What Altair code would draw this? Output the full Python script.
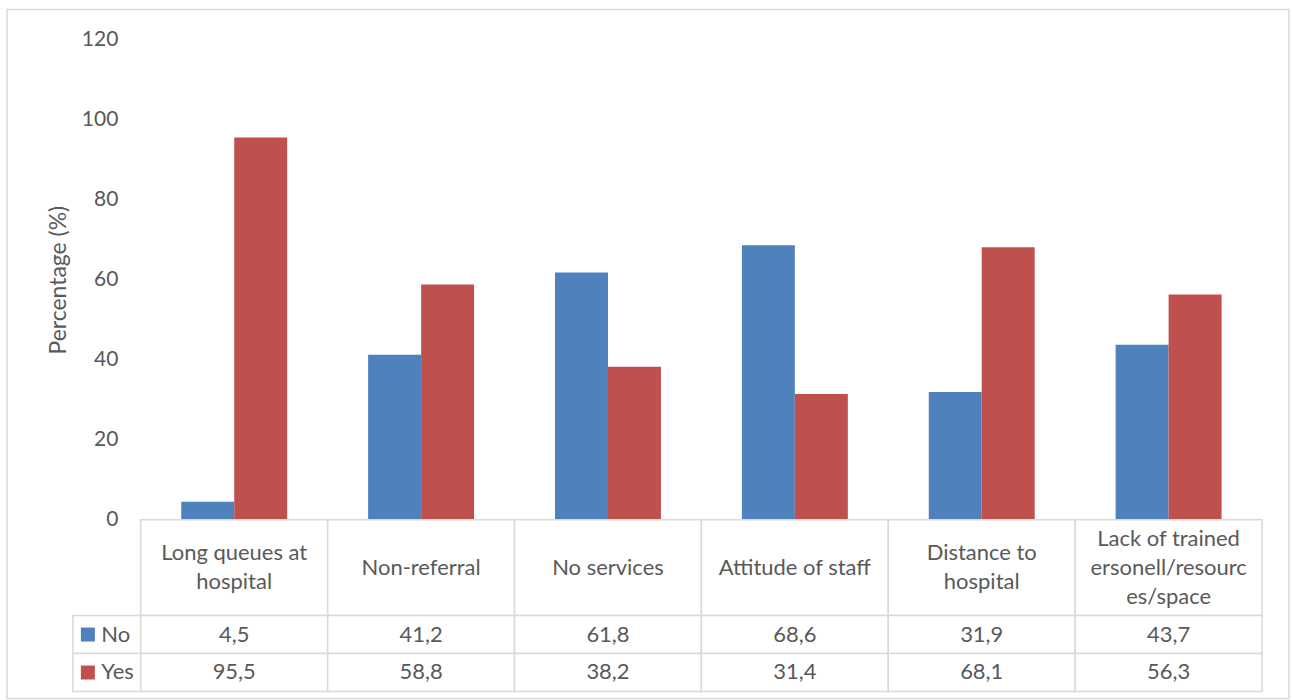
import altair as alt
import pandas as pd

categories = ["Long queues at hospital", "Non-referral", "No services",
              "Attitude of staff", "Distance to hospital",
              "Lack of trained ersonell/resources/space"]
header_labels = ["Long queues at\nhospital", "Non-referral", "No services",
                 "Attitude of staff", "Distance to\nhospital",
                 "Lack of trained\nersonell/resourc\nes/space"]
series = ["No", "Yes"]
no_values = [4.5, 41.2, 61.8, 68.6, 31.9, 43.7]
yes_values = [95.5, 58.8, 38.2, 31.4, 68.1, 56.3]
y_ticks = [0, 20, 40, 60, 80, 100, 120]
colors = ["#4f81bd", "#c0504d"]

FONT = "Lato"
TXT = "#595959"
GRID = "#d9d9d9"
FS = 22
LH = 29
W = 1123

rows = []
for c, n, y in zip(categories, no_values, yes_values):
    rows.append({"category": c, "series": "No", "value": n,
                 "label": f"{n:.1f}".replace(".", ",")})
    rows.append({"category": c, "series": "Yes", "value": y,
                 "label": f"{y:.1f}".replace(".", ",")})
df = pd.DataFrame(rows)
hdr = pd.DataFrame({"category": categories, "text": header_labels,
                    "nlines": [t.count("\n") + 1 for t in header_labels]})

xcat = alt.X("category:N", sort=categories,
             scale=alt.Scale(paddingInner=0, paddingOuter=0), axis=None)
color = alt.Color("series:N", scale=alt.Scale(domain=series, range=colors), legend=None)

bars = alt.Chart(df).mark_bar().encode(
    x=xcat,
    xOffset=alt.XOffset("series:N", sort=series,
                        scale=alt.Scale(paddingInner=0, paddingOuter=0.764)),
    y=alt.Y("value:Q", scale=alt.Scale(domain=[0, 120], nice=False),
            axis=alt.Axis(values=y_ticks, grid=False, domain=False, ticks=False,
                          labelFontSize=FS - 1, labelColor=TXT, labelFont=FONT,
                          labelPadding=23, title="Percentage (%)",
                          titleFontSize=23, titleFont=FONT, titleColor=TXT,
                          titleFontWeight="normal", titlePadding=11)),
    color=color,
)
frame = alt.Chart(hdr).mark_rect(fill=None, stroke=GRID, strokeWidth=1.5).encode(
    x=alt.value(-134), x2=alt.value(1150), y=alt.value(-30), y2=alt.value(660)
).transform_filter(alt.datum.category == categories[0])
top = alt.layer(frame, bars).properties(width=W, height=481)

hcell = alt.Chart(hdr).mark_rect(fill="white", stroke=GRID, strokeWidth=1.5).encode(x=xcat)
hlayers = [hcell]
for n in sorted(set(hdr["nlines"])):
    hlayers.append(
        alt.Chart(hdr).mark_text(font=FONT, fontSize=FS, color=TXT, lineBreak="\n",
                                 lineHeight=LH, baseline="middle",
                                 dy=-(n - 1) * LH / 2).encode(
            x=xcat, text="text:N").transform_filter(alt.datum.nlines == n)
    )
header = alt.layer(*hlayers).properties(width=W, height=96)

yrow = alt.Y("series:N", sort=series, scale=alt.Scale(paddingInner=0, paddingOuter=0),
             axis=alt.Axis(domain=False, ticks=False, labelAlign="left", labelPadding=40,
                           labelFontSize=FS, labelFont=FONT, labelColor=TXT, title=None,
                           labelBaseline="middle"))
vcell = alt.Chart(df).mark_rect(fill="white", stroke=GRID, strokeWidth=1.5).encode(x=xcat, y=yrow)
lcell = alt.Chart(df).mark_rect(fill="white", stroke=GRID, strokeWidth=1.5).encode(
    x=alt.value(-68), x2=alt.value(0), y=yrow
).transform_filter(alt.datum.category == categories[0])
lsq = alt.Chart(df).mark_square(size=196, opacity=1).encode(
    x=alt.value(-53), y=yrow, color=color
).transform_filter(alt.datum.category == categories[0])
vtext = alt.Chart(df).mark_text(font=FONT, fontSize=FS, color=TXT, baseline="middle").encode(
    x=xcat, y=yrow, text="label:N")
values = alt.layer(lcell, vcell, lsq, vtext).properties(width=W, height=76)

chart = alt.vconcat(top, header, values, spacing=0, bounds="flush").properties(
    padding={"left": 6, "top": 8, "right": 2, "bottom": 2},
    background="white",
).configure_view(stroke=None)

chart.save("out.html", embed_options={"renderer": "svg", "actions": False})
